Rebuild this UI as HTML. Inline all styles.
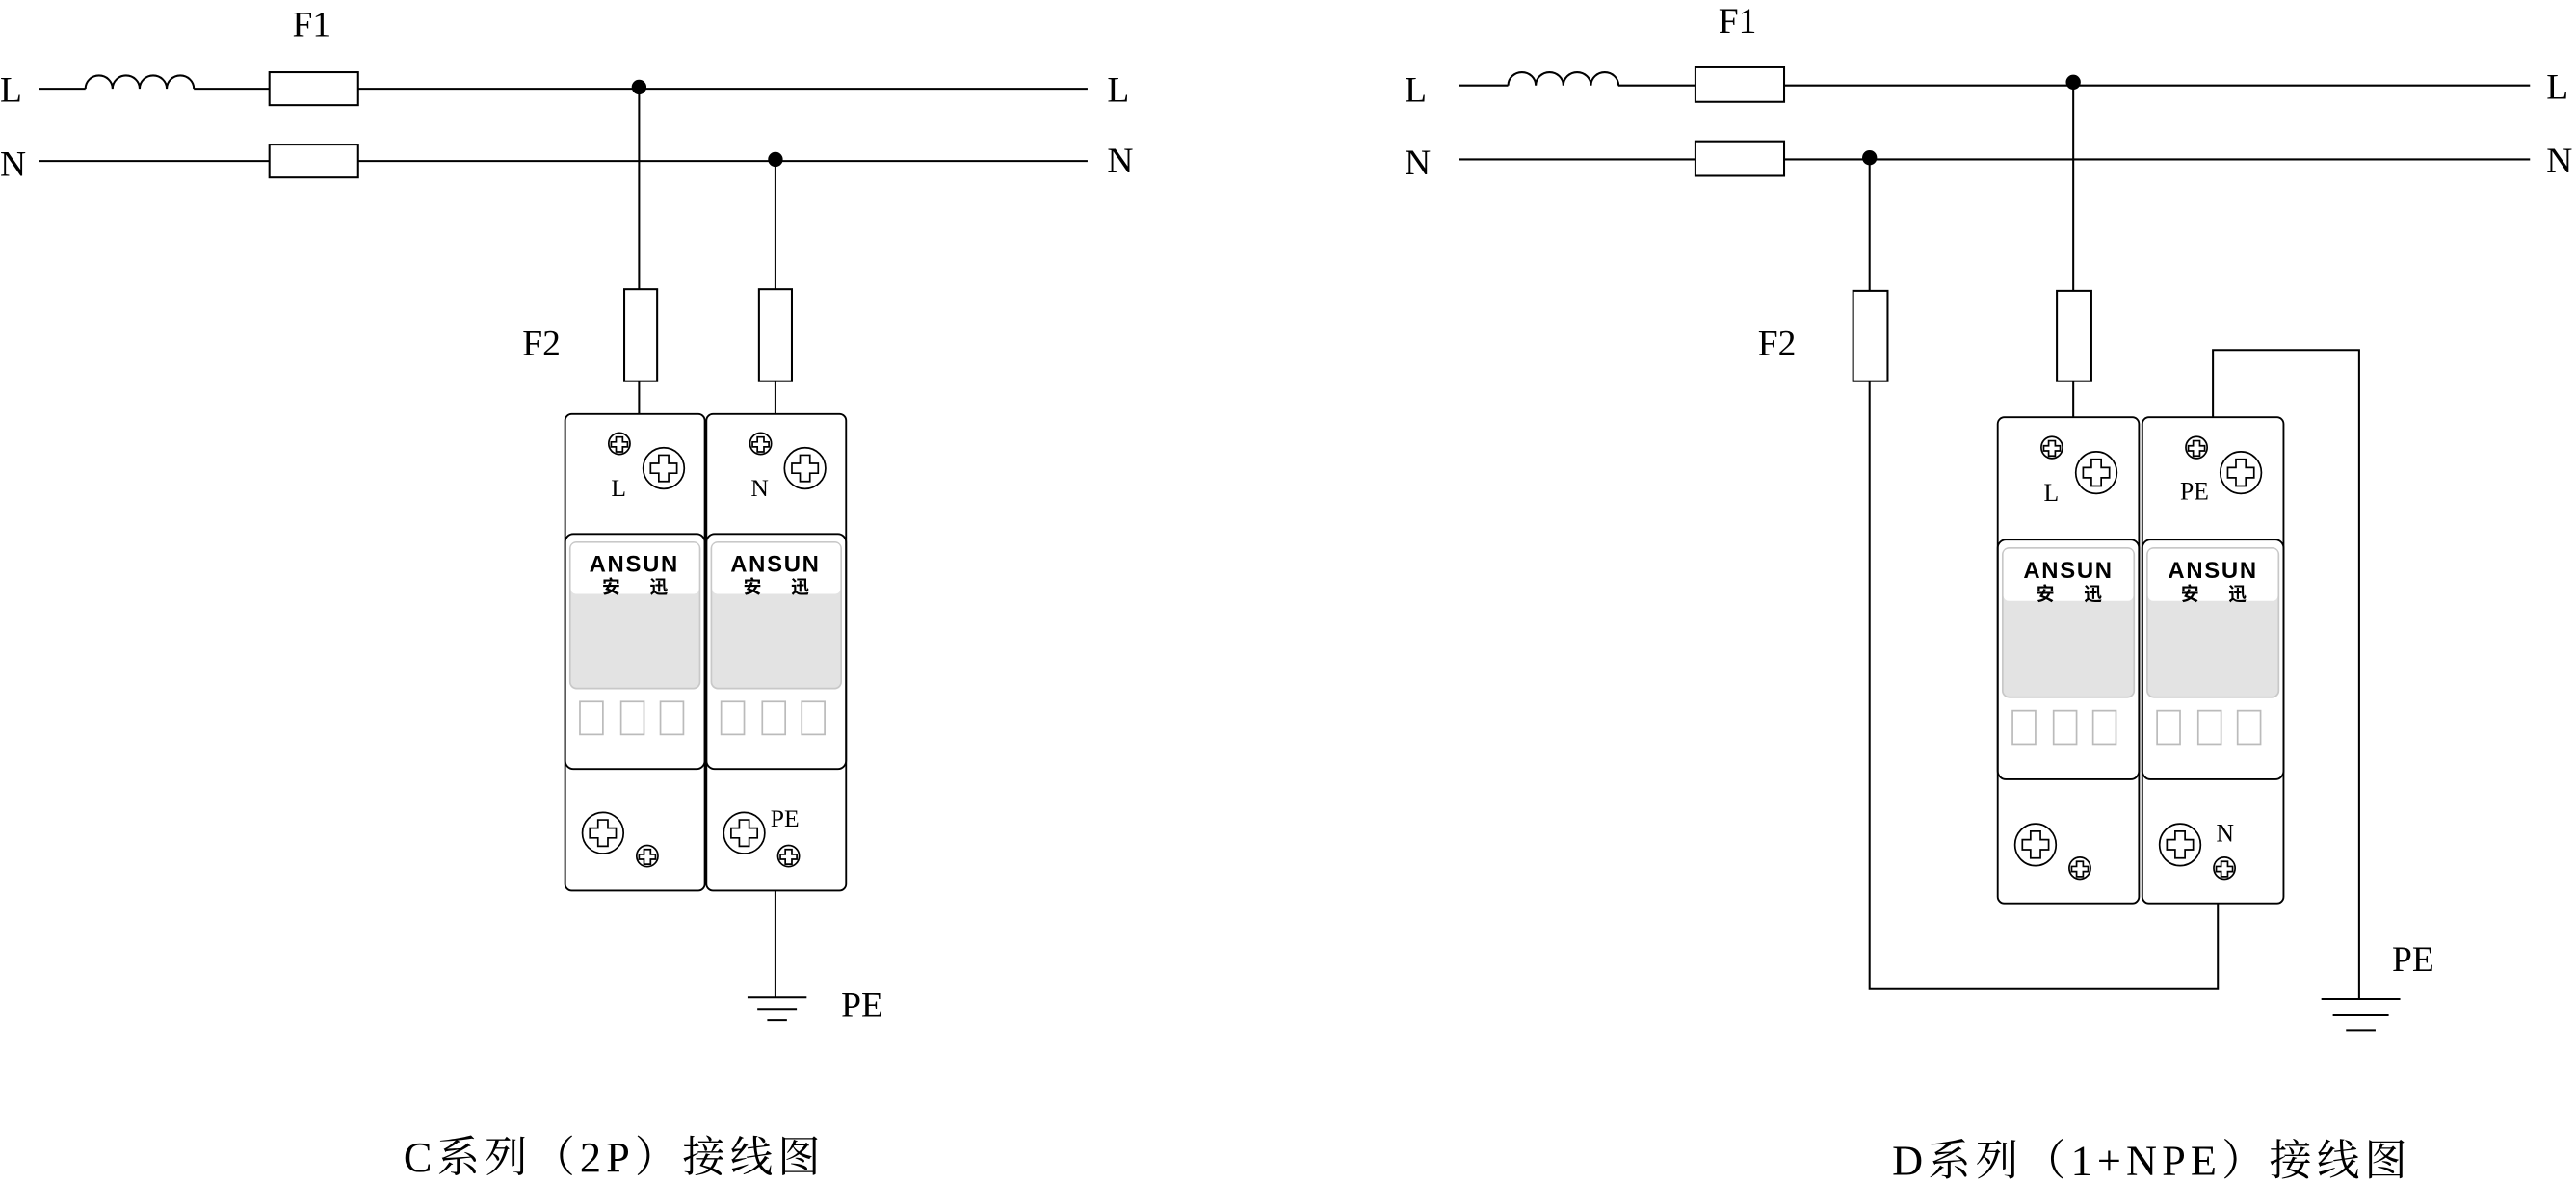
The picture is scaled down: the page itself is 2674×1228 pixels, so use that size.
<!DOCTYPE html>
<html><head><meta charset="utf-8"><style>
html,body{margin:0;padding:0;background:#fff}
svg{display:block}
text{font-family:"Liberation Serif","Noto Serif CJK SC",serif;fill:#000}
.b{font-family:"Liberation Sans","Noto Sans CJK SC",sans-serif;font-weight:bold}
</style></head><body>
<svg width="2674" height="1228" viewBox="0 0 1568 720" preserveAspectRatio="none" xmlns="http://www.w3.org/2000/svg">
<g fill="none" stroke="#000" stroke-width="1.2">
<path d="M24 54 H52 M118 54 H164 M218 54 H662"/>
<path d="M52 54 a8.25 8 0 0 1 16.5 0 a8.25 8 0 0 1 16.5 0 a8.25 8 0 0 1 16.5 0 a8.25 8 0 0 1 16.5 0"/>
<rect x="164" y="44" width="54" height="20" fill="#fff"/>
<path d="M24 98 H164 M218 98 H662"/>
<rect x="164" y="88" width="54" height="20" fill="#fff"/>
<path d="M389 53 V176 M389 232 V252"/>
<rect x="380" y="176" width="20" height="56"/>
<path d="M472 97 V176 M472 232 V252"/>
<rect x="462" y="176" width="20" height="56"/>
<path d="M472 542 V607 M455 607 H491 M461 614 H485 M467 621 H479"/>
<path d="M888 52 H918 M985 52 H1032 M1086 52 H1540"/>
<path d="M918 52 a8.4 8 0 0 1 16.8 0 a8.4 8 0 0 1 16.8 0 a8.4 8 0 0 1 16.8 0 a8.4 8 0 0 1 16.8 0"/>
<rect x="1032" y="41" width="54" height="21"/>
<path d="M888 97 H1032 M1086 97 H1540"/>
<rect x="1032" y="86" width="54" height="21"/>
<path d="M1262 50 V177 M1262 232 V254"/>
<rect x="1252" y="177" width="21" height="55"/>
<path d="M1138 96 V177 M1138 232 V602 H1350 V550"/>
<rect x="1128" y="177" width="21" height="55"/>
<path d="M1347 254 V213 H1436 V608 M1413 608 H1461 M1420 618 H1454 M1428 627 H1446"/>
</g>
<g fill="#000">
<circle cx="389" cy="53" r="4.5"/><circle cx="472" cy="97" r="4.5"/>
<circle cx="1262" cy="50" r="4.5"/><circle cx="1138" cy="96" r="4.5"/>
</g>
<g font-size="22">
<text x="0" y="62">L</text><text x="0" y="107">N</text>
<text x="674" y="62">L</text><text x="674" y="105">N</text>
<text x="178" y="22">F1</text><text x="318" y="216">F2</text>
<text x="512" y="619">PE</text>
<text x="855" y="62">L</text><text x="855" y="106">N</text>
<text x="1550" y="60">L</text><text x="1550" y="105">N</text>
<text x="1046" y="20">F1</text><text x="1070" y="216">F2</text>
<text x="1456" y="591">PE</text>
</g>
<text x="374" y="713" font-size="26" text-anchor="middle" letter-spacing="3">C系列（2P）接线图</text>
<text x="1310" y="715" font-size="26" text-anchor="middle" letter-spacing="3">D系列（1+NPE）接线图</text>

<g transform="translate(344,252)">
 <g fill="none" stroke="#000" stroke-width="1.1">
  <rect x="0" y="0" width="85" height="290" rx="4" fill="#fff"/>
  <rect x="0" y="73" width="85" height="143" rx="5"/>
 </g>
 <rect x="3" y="78" width="79" height="89" rx="4" fill="#e3e3e3" stroke="#c8c8c8"/>
 <rect x="3.5" y="78.5" width="78" height="31" rx="3" fill="#fff"/>
 <text class="b" x="42" y="96" font-size="14" text-anchor="middle" letter-spacing="1">ANSUN</text>
 <text class="b" x="28" y="109" font-size="11" text-anchor="middle">安</text>
 <text class="b" x="57" y="109" font-size="11" text-anchor="middle">迅</text>
 <g fill="none" stroke="#bbb"><rect x="9" y="175" width="14" height="20"/><rect x="34" y="175" width="14" height="20"/><rect x="58" y="175" width="14" height="20"/></g>
 <g fill="none" stroke="#000" stroke-width="1">
  <circle cx="33" cy="18" r="6.5"/><path d="M31 14h4v3h3v3h-3v3h-4v-3h-3v-3h3z"/>
  <circle cx="60" cy="33" r="12.5"/><path d="M57 25h6v5h5v6h-5v5h-6v-5h-5v-6h5z"/>
  <circle cx="23" cy="255" r="12.5"/><path d="M20 247h6v5h5v6h-5v5h-6v-5h-5v-6h5z"/>
  <circle cx="50" cy="269" r="6.5"/><path d="M48 265h4v3h3v3h-3v3h-4v-3h-3v-3h3z"/>
 </g>
 <text x="28" y="50" font-size="15">L</text>
</g>
<g transform="translate(430,252)">
 <g fill="none" stroke="#000" stroke-width="1.1">
  <rect x="0" y="0" width="85" height="290" rx="4" fill="#fff"/>
  <rect x="0" y="73" width="85" height="143" rx="5"/>
 </g>
 <rect x="3" y="78" width="79" height="89" rx="4" fill="#e3e3e3" stroke="#c8c8c8"/>
 <rect x="3.5" y="78.5" width="78" height="31" rx="3" fill="#fff"/>
 <text class="b" x="42" y="96" font-size="14" text-anchor="middle" letter-spacing="1">ANSUN</text>
 <text class="b" x="28" y="109" font-size="11" text-anchor="middle">安</text>
 <text class="b" x="57" y="109" font-size="11" text-anchor="middle">迅</text>
 <g fill="none" stroke="#bbb"><rect x="9" y="175" width="14" height="20"/><rect x="34" y="175" width="14" height="20"/><rect x="58" y="175" width="14" height="20"/></g>
 <g fill="none" stroke="#000" stroke-width="1">
  <circle cx="33" cy="18" r="6.5"/><path d="M31 14h4v3h3v3h-3v3h-4v-3h-3v-3h3z"/>
  <circle cx="60" cy="33" r="12.5"/><path d="M57 25h6v5h5v6h-5v5h-6v-5h-5v-6h5z"/>
  <circle cx="23" cy="255" r="12.5"/><path d="M20 247h6v5h5v6h-5v5h-6v-5h-5v-6h5z"/>
  <circle cx="50" cy="269" r="6.5"/><path d="M48 265h4v3h3v3h-3v3h-4v-3h-3v-3h3z"/>
 </g>
 <text x="27" y="50" font-size="15">N</text>
 <text x="39" y="251" font-size="15">PE</text>
</g>
<g transform="translate(1216,254) scale(1,1.02)">
 <g fill="none" stroke="#000" stroke-width="1.1">
  <rect x="0" y="0" width="86" height="290" rx="4" fill="#fff"/>
  <rect x="0" y="73" width="86" height="143" rx="5"/>
 </g>
 <rect x="3" y="78" width="80" height="89" rx="4" fill="#e3e3e3" stroke="#c8c8c8"/>
 <rect x="3.5" y="78.5" width="79" height="31" rx="3" fill="#fff"/>
 <text class="b" x="43" y="96" font-size="14" text-anchor="middle" letter-spacing="1">ANSUN</text>
 <text class="b" x="29" y="109" font-size="11" text-anchor="middle">安</text>
 <text class="b" x="58" y="109" font-size="11" text-anchor="middle">迅</text>
 <g fill="none" stroke="#bbb"><rect x="9" y="175" width="14" height="20"/><rect x="34" y="175" width="14" height="20"/><rect x="58" y="175" width="14" height="20"/></g>
 <g fill="none" stroke="#000" stroke-width="1">
  <circle cx="33" cy="18" r="6.5"/><path d="M31 14h4v3h3v3h-3v3h-4v-3h-3v-3h3z"/>
  <circle cx="60" cy="33" r="12.5"/><path d="M57 25h6v5h5v6h-5v5h-6v-5h-5v-6h5z"/>
  <circle cx="23" cy="255" r="12.5"/><path d="M20 247h6v5h5v6h-5v5h-6v-5h-5v-6h5z"/>
  <circle cx="50" cy="269" r="6.5"/><path d="M48 265h4v3h3v3h-3v3h-4v-3h-3v-3h3z"/>
 </g>
 <text x="28" y="50" font-size="15">L</text>
</g>
<g transform="translate(1304,254) scale(1,1.02)">
 <g fill="none" stroke="#000" stroke-width="1.1">
  <rect x="0" y="0" width="86" height="290" rx="4" fill="#fff"/>
  <rect x="0" y="73" width="86" height="143" rx="5"/>
 </g>
 <rect x="3" y="78" width="80" height="89" rx="4" fill="#e3e3e3" stroke="#c8c8c8"/>
 <rect x="3.5" y="78.5" width="79" height="31" rx="3" fill="#fff"/>
 <text class="b" x="43" y="96" font-size="14" text-anchor="middle" letter-spacing="1">ANSUN</text>
 <text class="b" x="29" y="109" font-size="11" text-anchor="middle">安</text>
 <text class="b" x="58" y="109" font-size="11" text-anchor="middle">迅</text>
 <g fill="none" stroke="#bbb"><rect x="9" y="175" width="14" height="20"/><rect x="34" y="175" width="14" height="20"/><rect x="58" y="175" width="14" height="20"/></g>
 <g fill="none" stroke="#000" stroke-width="1">
  <circle cx="33" cy="18" r="6.5"/><path d="M31 14h4v3h3v3h-3v3h-4v-3h-3v-3h3z"/>
  <circle cx="60" cy="33" r="12.5"/><path d="M57 25h6v5h5v6h-5v5h-6v-5h-5v-6h5z"/>
  <circle cx="23" cy="255" r="12.5"/><path d="M20 247h6v5h5v6h-5v5h-6v-5h-5v-6h5z"/>
  <circle cx="50" cy="269" r="6.5"/><path d="M48 265h4v3h3v3h-3v3h-4v-3h-3v-3h3z"/>
 </g>
 <text x="23" y="49" font-size="15">PE</text>
 <text x="45" y="253" font-size="15">N</text>
</g>
</svg>
</body></html>
